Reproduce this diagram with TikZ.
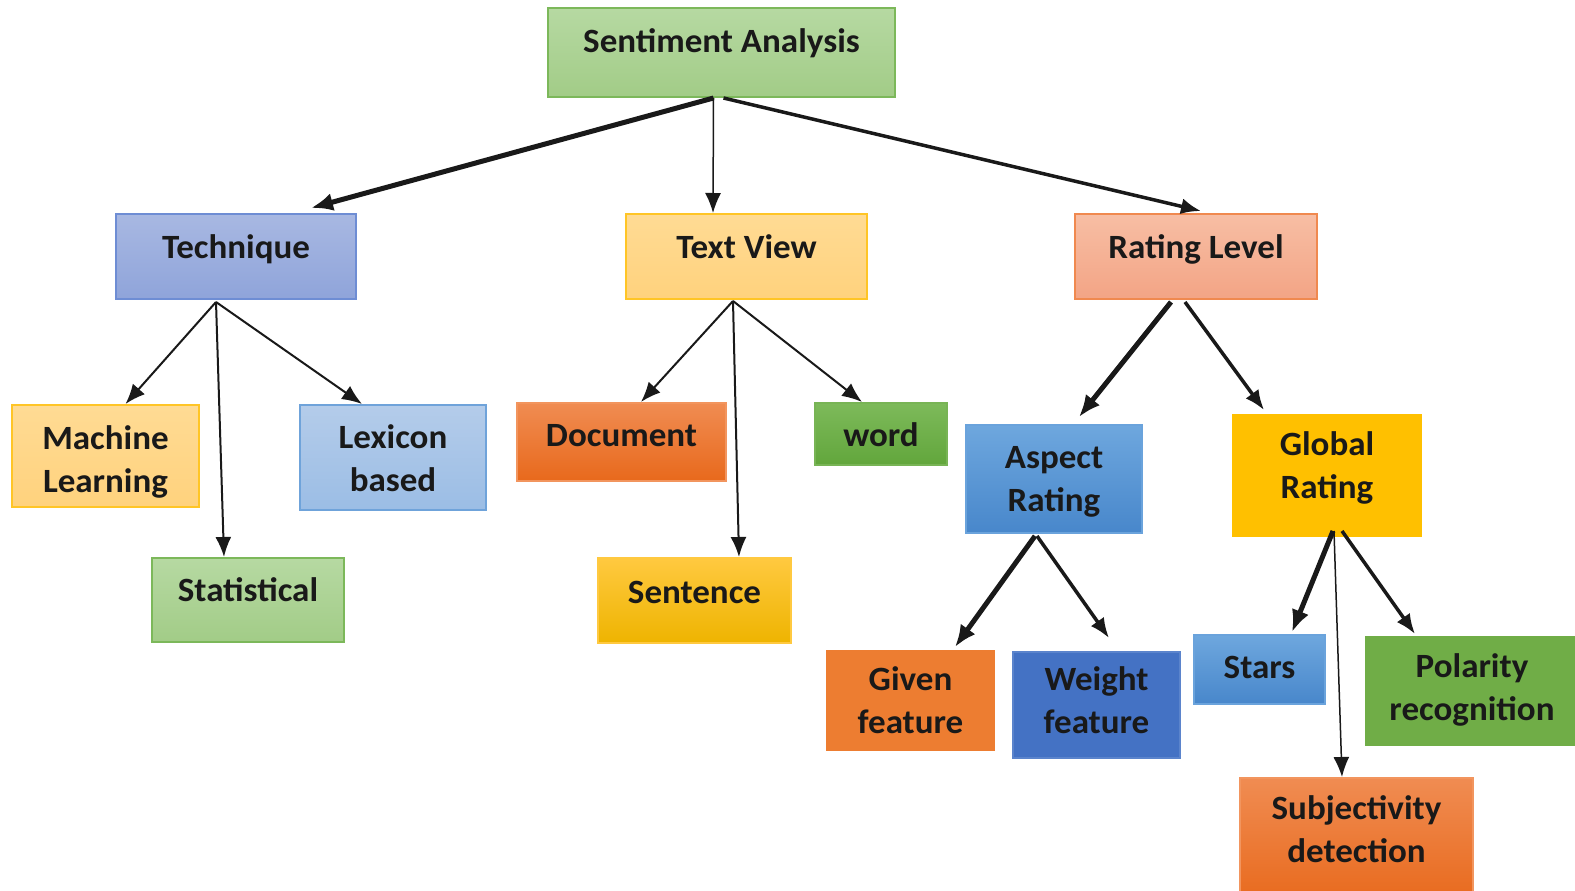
\documentclass[tikz,border=0pt]{standalone}
\usepackage{fontspec}
\setmainfont{Carlito}[FakeStretch=1.03]
\usetikzlibrary{arrows.meta}
\definecolor{sageTop}{HTML}{B6D9A2}
\definecolor{sageBot}{HTML}{A2CC87}
\definecolor{sageLine}{HTML}{7CB85A}
\definecolor{lilacTop}{HTML}{A8B8E2}
\definecolor{lilacBot}{HTML}{8FA4DA}
\definecolor{lilacLine}{HTML}{6E8DD4}
\definecolor{creamTop}{HTML}{FFDB94}
\definecolor{creamBot}{HTML}{FFD27D}
\definecolor{creamLine}{HTML}{FFC526}
\definecolor{skyTop}{HTML}{B4CCEA}
\definecolor{skyBot}{HTML}{9BBDE5}
\definecolor{skyLine}{HTML}{6FA3DA}
\definecolor{rustTop}{HTML}{F08C52}
\definecolor{rustBot}{HTML}{E8691C}
\definecolor{rustLine}{HTML}{F2955E}
\definecolor{leafTop}{HTML}{7DBA5A}
\definecolor{leafBot}{HTML}{62A63C}
\definecolor{leafLine}{HTML}{78B455}
\definecolor{goldTop}{HTML}{FFC940}
\definecolor{goldBot}{HTML}{EEB400}
\definecolor{salmonTop}{HTML}{F7BEA4}
\definecolor{salmonBot}{HTML}{F3A485}
\definecolor{salmonLine}{HTML}{F0894F}
\definecolor{azureTop}{HTML}{6EA7DE}
\definecolor{azureBot}{HTML}{4887CB}
\definecolor{azureLine}{HTML}{6AA3DC}
\definecolor{plainGold}{HTML}{FFC000}
\definecolor{plainOrange}{HTML}{ED7D31}
\definecolor{plainBlue}{HTML}{4472C4}
\definecolor{plainBlueLine}{HTML}{5B84CC}
\definecolor{plainGreen}{HTML}{70AD47}

\begin{document}
\begin{tikzpicture} [
        x=1pt, y=-1pt,
        box/.style={draw, line width=2pt, align=center, inner sep=0pt, text=black!90, font=\fontsize{34}{43}\selectfont\bfseries},
        text base/.style={text height=#1, text depth=0pt},
        sage box/.style={box, draw=sageLine, top color=sageTop, bottom color=sageBot},
        lilac box/.style={box, draw=lilacLine, top color=lilacTop, bottom color=lilacBot},
        cream box/.style={box, draw=creamLine, top color=creamTop, bottom color=creamBot},
        sky box/.style={box, draw=skyLine, top color=skyTop, bottom color=skyBot},
        rust box/.style={box, draw=rustLine, top color=rustTop, bottom color=rustBot},
        leaf box/.style={box, draw=leafLine, top color=leafTop, bottom color=leafBot},
        gold box/.style={box, draw=goldTop, top color=goldTop, bottom color=goldBot},
        salmon box/.style={box, draw=salmonLine, top color=salmonTop, bottom color=salmonBot},
        azure box/.style={box, draw=azureLine, top color=azureTop, bottom color=azureBot},
        flat box/.style={box, draw=#1, fill=#1},
        link/.style={-{Latex[length=20pt, width=16pt]}, line width=2pt, black!90},
        link thin/.style={link, line width=1.5pt},
        link mid/.style={link, line width=3.5pt},
        link thick/.style={link, line width=5pt, -{Latex[length=22pt, width=18pt]}},
    ]

    \useasboundingbox (0,0) rectangle (1575,891);

    % root and first level
    \path (721.5,52.5) node[sage box, text base=0pt, minimum width=347pt, minimum height=89pt] (sa) {Sentiment Analysis};
    \path (236,256.5) node[lilac box, text base=3.6pt, minimum width=240pt, minimum height=85pt] (tech) {Technique};
    \path (746.5,256.5) node[cream box, text base=3.6pt, minimum width=241pt, minimum height=85pt] (tview) {Text View};
    \path (1196,256.5) node[salmon box, text base=3.6pt, minimum width=242pt, minimum height=85pt] (rlevel) {Rating Level};

    % technique
    \path (105.5,456) node[cream box, text base=72pt, minimum width=187pt, minimum height=102pt] (ml) {Machine\\Learning};
    \path (393,457.5) node[sky box, text base=68pt, minimum width=186pt, minimum height=105pt] (lex) {Lexicon\\based};
    \path (248,600) node[sage box, text base=3.4pt, minimum width=192pt, minimum height=84pt] (stat) {Statistical};

    % text view
    \path (621.5,442) node[rust box, text base=9.4pt, minimum width=209pt, minimum height=78pt] (doc) {Document};
    \path (881,434) node[leaf box, text base=25.4pt, minimum width=132pt, minimum height=62pt] (word) {word};
    \path (694.5,600.5) node[gold box, text base=5.6pt, minimum width=193pt, minimum height=85pt] (sent) {Sentence};

    % rating level
    \path (1054,479) node[azure box, text base=65.4pt, minimum width=176pt, minimum height=108pt] (aspect) {Aspect\\Rating};
    \path (1327,475.5) node[flat box=plainGold, text base=45.6pt, minimum width=188pt, minimum height=121pt] (global) {Global\\Rating};
    \path (910.5,700.5) node[flat box=plainOrange, text base=65.6pt, minimum width=167pt, minimum height=99pt] (given) {Given\\feature};
    \path (1096.5,705) node[box, text base=56.6pt, draw=plainBlueLine, fill=plainBlue, minimum width=167pt, minimum height=106pt] (weight) {Weight\\feature};
    \path (1259.5,669.5) node[azure box, text base=17.6pt, minimum width=131pt, minimum height=69pt] (stars) {Stars};
    \path (1472,691) node[flat box=plainGreen, text base=58pt, minimum width=212pt, minimum height=108pt] (polar) {Polarity\\recognition};
    \path (1356.5,841.5) node[rust box, text base=42.4pt, minimum width=233pt, minimum height=127pt] (subj) {Subjectivity\\detection};

    \draw[link thick] ([xshift=-8pt]sa.south) -- ([xshift=75pt, yshift=5pt]tech.north);
    \draw[link thin] ([xshift=-8pt]sa.south) -- ([xshift=-33.5pt]tview.north);
    \draw[link mid] ([xshift=2pt]sa.south) -- ([xshift=5pt, yshift=2pt]rlevel.north);

    \draw[link] ([xshift=-20pt, yshift=-2pt]tech.south) -- ([xshift=20pt]ml.north);
    \draw[link] ([xshift=-20pt, yshift=-2pt]tech.south) -- ([xshift=-24pt]stat.north);
    \draw[link] ([xshift=-20pt, yshift=-2pt]tech.south) -- ([xshift=-31pt]lex.north);

    \draw[link] ([xshift=-13.5pt, yshift=-1pt]tview.south) -- ([xshift=19.5pt]doc.north);
    \draw[link] ([xshift=-13.5pt, yshift=-1pt]tview.south) -- ([xshift=44.5pt]sent.north);
    \draw[link] ([xshift=-13.5pt, yshift=-1pt]tview.south) -- ([xshift=-19pt]word.north);

    \draw[link thick] ([xshift=-25pt, yshift=-2pt]rlevel.south) -- ([xshift=25pt, yshift=7pt]aspect.north);
    \draw[link mid] ([xshift=-11pt, yshift=-2pt]rlevel.south) -- ([xshift=-63pt, yshift=4pt]global.north);

    \draw[link thick] ([xshift=-19pt, yshift=-2pt]aspect.south) -- ([xshift=44.5pt, yshift=3pt]given.north);
    \draw[link mid] ([xshift=-17pt, yshift=-2pt]aspect.south) -- ([xshift=12.5pt, yshift=13pt]weight.north);

    \draw[link thick] ([xshift=6pt, yshift=6pt]global.south) -- ([xshift=32.5pt, yshift=2pt]stars.north);
    \draw[link thin] ([xshift=7pt, yshift=6pt]global.south) -- ([xshift=-14.5pt]subj.north);
    \draw[link mid] ([xshift=15pt, yshift=6pt]global.south) -- ([xshift=-57pt, yshift=2pt]polar.north);

\end{tikzpicture}
\end{document}
